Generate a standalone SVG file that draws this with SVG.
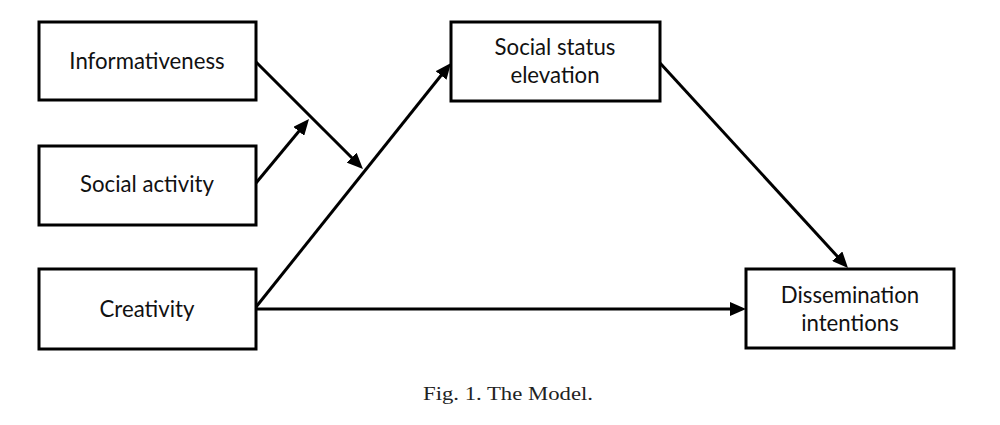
<svg xmlns="http://www.w3.org/2000/svg" width="1000" height="425" viewBox="0 0 1000 425">
<style>
.box{fill:#fff;stroke:#000;stroke-width:3}
.lbl{font-family:Lato,"Open Sans","Liberation Sans",sans-serif;font-size:22.2px;fill:#111;text-anchor:middle}
.edge{stroke:#000;stroke-width:3;fill:none;marker-end:url(#ah)}
.cap{font-family:"Liberation Serif","Times New Roman",serif;font-size:18.5px;fill:#222;text-anchor:middle}
</style>
<defs>
<marker id="ah" markerUnits="userSpaceOnUse" viewBox="0 0 16 14" refX="8" refY="7" markerWidth="16" markerHeight="14" orient="auto">
<path d="M0,0 L16,7 L0,14 z" fill="#000"/>
</marker>
</defs>
<rect width="1000" height="425" fill="#fff"/>
<g id="connectors">
<path class="edge" d="M256,62 L357.3,163.3"/>
<path class="edge" d="M256,183 L303.9,125.2"/>
<path class="edge" d="M256,307 L446,69.25"/>
<path class="edge" d="M660,63 L842.6,262.1"/>
<path class="edge" d="M256,309 L738,309"/>
</g>
<g id="informativeness">
<rect class="box" x="39" y="22" width="217" height="78"/>
<text class="lbl" x="147" y="69">Informativeness</text>
</g>
<g id="social-activity">
<rect class="box" x="39" y="146" width="217" height="79"/>
<text class="lbl" x="147" y="192">Social activity</text>
</g>
<g id="creativity">
<rect class="box" x="39" y="269" width="217" height="80"/>
<text class="lbl" x="147" y="317">Creativity</text>
</g>
<g id="social-status-elevation">
<rect class="box" x="451" y="22" width="209" height="79"/>
<text class="lbl" x="555" y="55">Social status</text>
<text class="lbl" x="555" y="83">elevation</text>
</g>
<g id="dissemination-intentions">
<rect class="box" x="746" y="269" width="208" height="79"/>
<text class="lbl" x="850" y="303">Dissemination</text>
<text class="lbl" x="850" y="331">intentions</text>
</g>
<text class="cap" x="508" y="400" textLength="170" lengthAdjust="spacingAndGlyphs">Fig. 1. The Model.</text>
</svg>
